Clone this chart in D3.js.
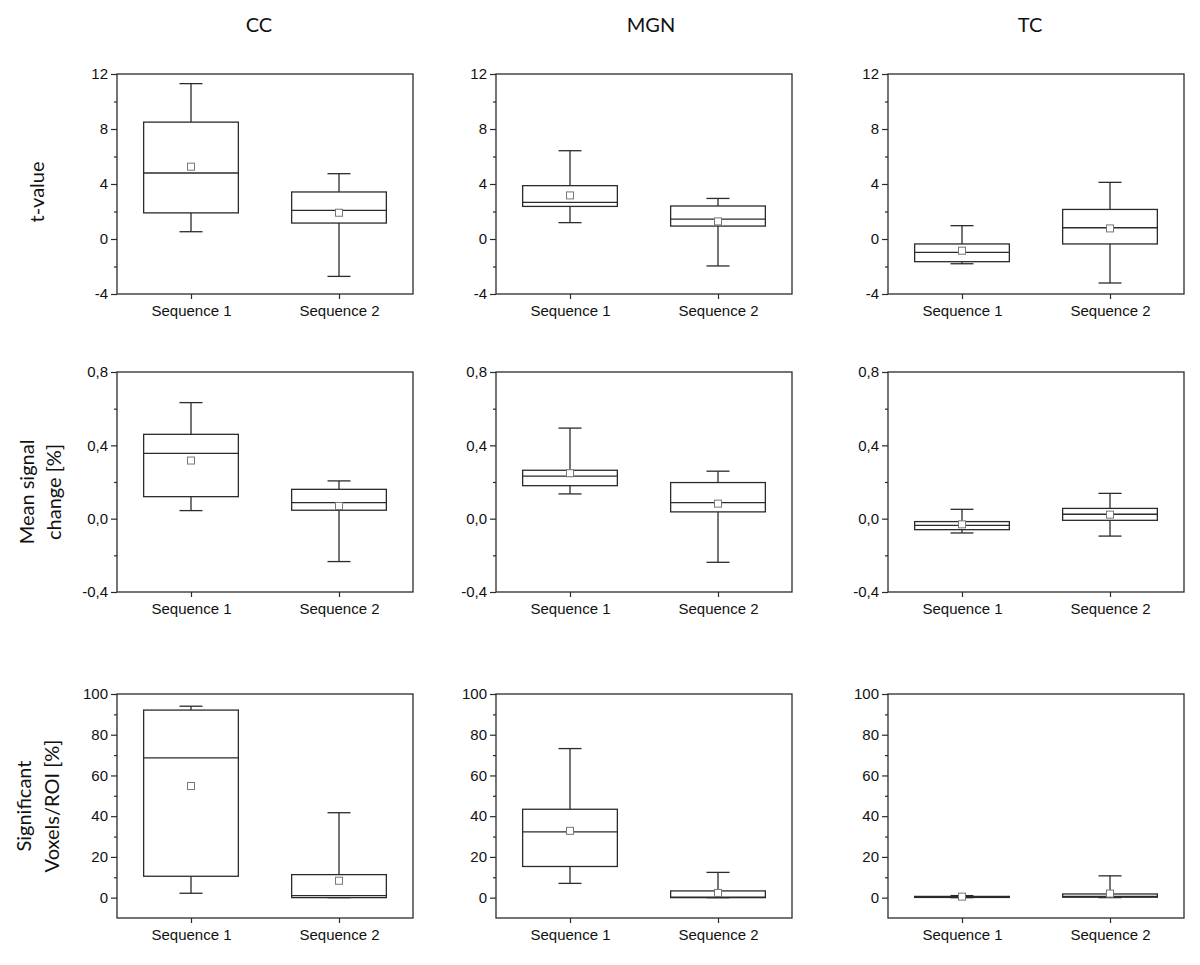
<!DOCTYPE html>
<html>
<head>
<meta charset="utf-8">
<script src="https://cdn.jsdelivr.net/npm/d3@7"></script>
<style>
  html, body { margin: 0; padding: 0; background: #fff; }
  svg { display: block; }
</style>
</head>
<body>
<svg id="chart" width="1200" height="965"></svg>
<script>
// ---------- data ----------
const regions = ["CC", "MGN", "TC"];
const categories = ["Sequence 1", "Sequence 2"];
const measureTitles = [["t-value"], ["Mean signal", "change [%]"], ["Significant", "Voxels/ROI [%]"]];

// each box: [whiskerLow, q1, median, q3, whiskerHigh, mean]; per region: [Sequence 1, Sequence 2]
const tValueCC  = [[0.53, 1.9, 4.8, 8.5, 11.3, 5.26], [-2.72, 1.16, 2.08, 3.42, 4.75, 1.91]];
const tValueMGN = [[1.19, 2.37, 2.66, 3.88, 6.42, 3.17], [-1.96, 0.94, 1.45, 2.4, 2.95, 1.28]];
const tValueTC  = [[-1.8, -1.65, -0.97, -0.36, 0.97, -0.85], [-3.2, -0.36, 0.82, 2.15, 4.12, 0.77]];

const signalCC  = [[0.044, 0.12, 0.356, 0.46, 0.633, 0.317], [-0.234, 0.046, 0.088, 0.16, 0.206, 0.069]];
const signalMGN = [[0.135, 0.18, 0.232, 0.264, 0.494, 0.248], [-0.238, 0.037, 0.087, 0.197, 0.259, 0.082]];
const signalTC  = [[-0.078, -0.06, -0.037, -0.016, 0.051, -0.031], [-0.095, -0.009, 0.024, 0.056, 0.138, 0.022]];

const voxelsCC  = [[2.15, 10.5, 68.6, 92.1, 94.0, 54.8], [0, 0, 1.0, 11.3, 41.7, 8.3]];
const voxelsMGN = [[7.0, 15.3, 32.3, 43.4, 73.2, 32.8], [0, 0, 0.3, 3.3, 12.4, 2.3]];
const voxelsTC  = [[0, 0.1, 0.3, 0.6, 1.0, 0.5], [0, 0.2, 0.6, 1.8, 10.7, 2.0]];

const yDomains = [[-4, 12], [-0.4, 0.8], [-10, 100]];
const yMajorTicks = [[-4, 0, 4, 8, 12], [-0.4, 0.0, 0.4, 0.8], [0, 20, 40, 60, 80, 100]];
const yMinorTicks = [[-2, 2, 6, 10], [-0.2, 0.2, 0.6], [10, 30, 50, 70, 90]];
const yDecimals = [0, 1, 0];

const rowData = [
  [tValueCC, tValueMGN, tValueTC],
  [signalCC, signalMGN, signalTC],
  [voxelsCC, voxelsMGN, voxelsTC]
];

// ---------- layout ----------
const colLeft = [117, 496, 888];
const colWidth = 296;
const rowTop = [74, 372, 694];
const rowBottom = [294, 592, 918];
const titleX = [259, 651, 1030];

const ink = "#2b2b2b";
const svg = d3.select("#chart");

function fmt(dec) {
  return v => {
    let s = d3.format("." + dec + "f")(Math.abs(v) < 1e-9 ? 0 : v);
    s = s.replace("\u2212", "-").replace(".", ",");
    return s;
  };
}

// column titles
regions.forEach((r, c) => {
  svg.append("text")
    .attr("x", titleX[c]).attr("y", 32)
    .attr("text-anchor", "middle")
    .style("font-family", "Lato, 'Open Sans', sans-serif")
    .style("font-size", "20px")
    .style("fill", "#111")
    .text(r);
});

// row titles
const rowTitleX = [[37], [27, 54], [24, 52]];
measureTitles.forEach((lines, r) => {
  const cy = (rowTop[r] + rowBottom[r]) / 2 + (r === 0 ? 8 : (r === 1 ? 10 : 0));
  lines.forEach((line, i) => {
    const x = rowTitleX[r][i];
    svg.append("text")
      .attr("transform", `translate(${x + 7},${cy}) rotate(-90)`)
      .attr("text-anchor", "middle")
      .style("font-family", "Lato, 'Open Sans', sans-serif")
      .style("font-size", "20px")
      .style("fill", "#111")
      .text(line);
  });
});

// panels
rowData.forEach((rowSets, r) => {
  rowSets.forEach((boxes, c) => {
    const left = colLeft[c], right = colLeft[c] + colWidth;
    const top = rowTop[r], bottom = rowBottom[r];
    const y = d3.scaleLinear().domain(yDomains[r]).range([bottom, top]);
    const x = d3.scalePoint().domain(categories).range([left, right]).padding(0.5);
    const g = svg.append("g");

    // y axis major
    const yAx = g.append("g").attr("transform", `translate(${left},0)`)
      .call(d3.axisLeft(y).tickValues(yMajorTicks[r]).tickSize(6).tickSizeOuter(0).tickPadding(3).tickFormat(fmt(yDecimals[r])));
    yAx.select(".domain").remove();
    yAx.selectAll("line").attr("stroke", ink).attr("stroke-width", 1.2);
    yAx.selectAll("text").style("font-family", "'Liberation Sans', Arial, sans-serif").style("font-size", "15px").attr("fill", "#111");
    // y axis minor
    const yMin = g.append("g").attr("transform", `translate(${left},0)`)
      .call(d3.axisLeft(y).tickValues(yMinorTicks[r]).tickSize(3).tickSizeOuter(0).tickFormat(""));
    yMin.select(".domain").remove();
    yMin.selectAll("line").attr("stroke", ink).attr("stroke-width", 1.2);

    // x axis
    const xAx = g.append("g").attr("transform", `translate(0,${bottom})`)
      .call(d3.axisBottom(x).tickSize(5).tickSizeOuter(0).tickPadding(6));
    xAx.select(".domain").remove();
    xAx.selectAll("line").attr("stroke", ink).attr("stroke-width", 1.2);
    xAx.selectAll("text").style("font-family", "'Liberation Sans', Arial, sans-serif").style("font-size", "15px").attr("fill", "#111");

    // frame
    g.append("rect")
      .attr("x", left).attr("y", top)
      .attr("width", colWidth).attr("height", bottom - top)
      .attr("fill", "none").attr("stroke", ink).attr("stroke-width", 1.3);

    const boxW = colWidth * 0.32;
    const capW = 23;
    boxes.forEach((b, i) => {
      const cx = x(categories[i]);
      const [lo, q1, med, q3, hi, mean] = b;
      const bg = g.append("g");
      // whiskers
      bg.append("line").attr("x1", cx).attr("x2", cx).attr("y1", y(q3)).attr("y2", y(hi))
        .attr("stroke", ink).attr("stroke-width", 1.3);
      bg.append("line").attr("x1", cx).attr("x2", cx).attr("y1", y(q1)).attr("y2", y(lo))
        .attr("stroke", ink).attr("stroke-width", 1.3);
      bg.append("line").attr("x1", cx - capW / 2).attr("x2", cx + capW / 2).attr("y1", y(hi)).attr("y2", y(hi))
        .attr("stroke", ink).attr("stroke-width", 1.3);
      bg.append("line").attr("x1", cx - capW / 2).attr("x2", cx + capW / 2).attr("y1", y(lo)).attr("y2", y(lo))
        .attr("stroke", ink).attr("stroke-width", 1.3);
      // box
      bg.append("rect")
        .attr("x", cx - boxW / 2).attr("y", y(q3))
        .attr("width", boxW).attr("height", Math.max(0, y(q1) - y(q3)))
        .attr("fill", "#fff").attr("stroke", ink).attr("stroke-width", 1.3);
      // median
      bg.append("line").attr("x1", cx - boxW / 2).attr("x2", cx + boxW / 2).attr("y1", y(med)).attr("y2", y(med))
        .attr("stroke", ink).attr("stroke-width", 1.3);
      // mean
      bg.append("rect")
        .attr("x", cx - 3.5).attr("y", y(mean) - 3.5)
        .attr("width", 7).attr("height", 7)
        .attr("fill", "#fff").attr("stroke", "#777").attr("stroke-width", 1);
    });
  });
});
</script>
</body>
</html>
